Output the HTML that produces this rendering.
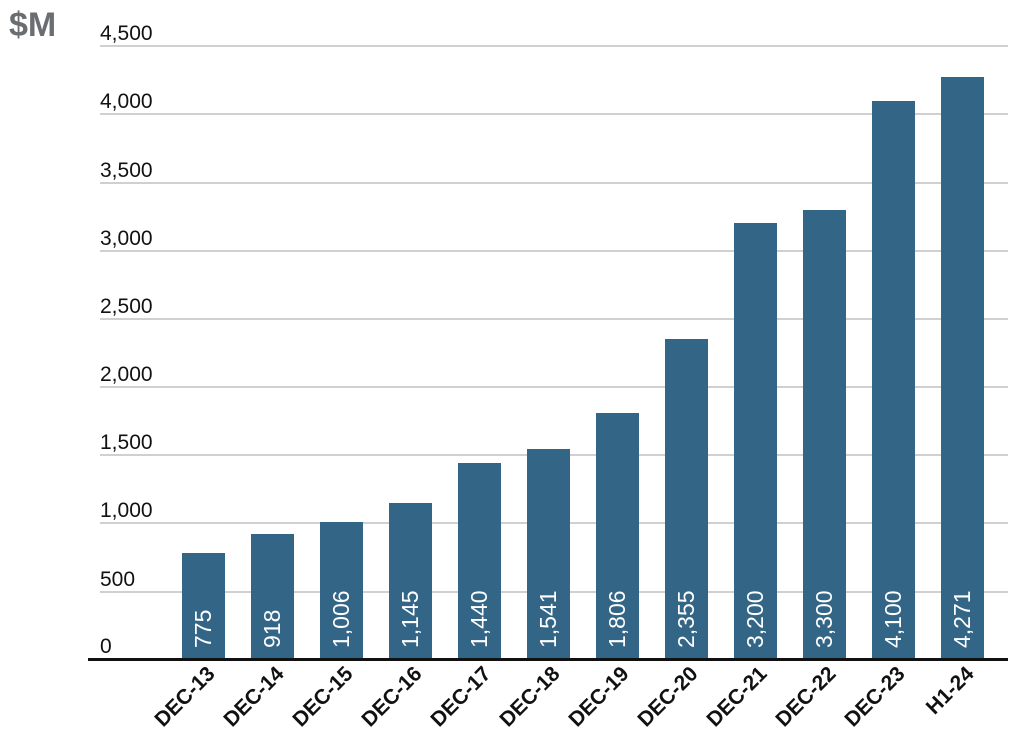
<!DOCTYPE html>
<html><head><style>body{margin:0;background:#fff}svg{display:block}</style></head><body>
<svg width="1024" height="750" xmlns="http://www.w3.org/2000/svg" font-family="Liberation Sans, sans-serif">
<text x="9" y="36" font-size="34" font-weight="bold" fill="#6b6e70">$M</text>
<g stroke="#d0d0d0" stroke-width="2">
<line x1="100" x2="1008" y1="46" y2="46"/><line x1="100" x2="1008" y1="114" y2="114"/>
<line x1="100" x2="1008" y1="183" y2="183"/><line x1="100" x2="1008" y1="251" y2="251"/>
<line x1="100" x2="1008" y1="319" y2="319"/><line x1="100" x2="1008" y1="387" y2="387"/>
<line x1="100" x2="1008" y1="455" y2="455"/><line x1="100" x2="1008" y1="523" y2="523"/>
<line x1="100" x2="1008" y1="592" y2="592"/>
</g>
<g font-size="21" fill="#111">
<text x="100" y="40">4,500</text><text x="100" y="108">4,000</text><text x="100" y="177">3,500</text>
<text x="100" y="245">3,000</text><text x="100" y="313">2,500</text><text x="100" y="381">2,000</text>
<text x="100" y="449">1,500</text><text x="100" y="517">1,000</text><text x="100" y="586">500</text>
<text x="100" y="653">0</text>
</g>
<g fill="#336587">
<rect x="182" y="553" width="43" height="106"/><rect x="251" y="534" width="43" height="125"/>
<rect x="320" y="522" width="43" height="137"/><rect x="389" y="503" width="43" height="156"/>
<rect x="458" y="463" width="43" height="196"/><rect x="527" y="449" width="43" height="210"/>
<rect x="596" y="413" width="43" height="246"/><rect x="665" y="339" width="43" height="320"/>
<rect x="734" y="223" width="43" height="436"/><rect x="803" y="210" width="43" height="449"/>
<rect x="872" y="101" width="43" height="558"/><rect x="941" y="77" width="43" height="582"/>
</g>
<line x1="88" x2="1008" y1="659.5" y2="659.5" stroke="#111" stroke-width="3"/>
<g font-size="23" fill="#fff">
<text transform="translate(211,648) rotate(-90)">775</text>
<text transform="translate(280,648) rotate(-90)">918</text>
<text transform="translate(349,648) rotate(-90)">1,006</text>
<text transform="translate(418,648) rotate(-90)">1,145</text>
<text transform="translate(487,648) rotate(-90)">1,440</text>
<text transform="translate(556,648) rotate(-90)">1,541</text>
<text transform="translate(625,648) rotate(-90)">1,806</text>
<text transform="translate(694,648) rotate(-90)">2,355</text>
<text transform="translate(763,648) rotate(-90)">3,200</text>
<text transform="translate(832,648) rotate(-90)">3,300</text>
<text transform="translate(901,648) rotate(-90)">4,100</text>
<text transform="translate(970,648) rotate(-90)">4,271</text>
</g>
<g font-size="21" font-weight="bold" fill="#111" text-anchor="end">
<text transform="translate(216,675) rotate(-45)">DEC-13</text>
<text transform="translate(285,675) rotate(-45)">DEC-14</text>
<text transform="translate(354,675) rotate(-45)">DEC-15</text>
<text transform="translate(423,675) rotate(-45)">DEC-16</text>
<text transform="translate(492,675) rotate(-45)">DEC-17</text>
<text transform="translate(561,675) rotate(-45)">DEC-18</text>
<text transform="translate(630,675) rotate(-45)">DEC-19</text>
<text transform="translate(699,675) rotate(-45)">DEC-20</text>
<text transform="translate(768,675) rotate(-45)">DEC-21</text>
<text transform="translate(837,675) rotate(-45)">DEC-22</text>
<text transform="translate(906,675) rotate(-45)">DEC-23</text>
<text transform="translate(975,675) rotate(-45)">H1-24</text>
</g>
</svg>
</body></html>
